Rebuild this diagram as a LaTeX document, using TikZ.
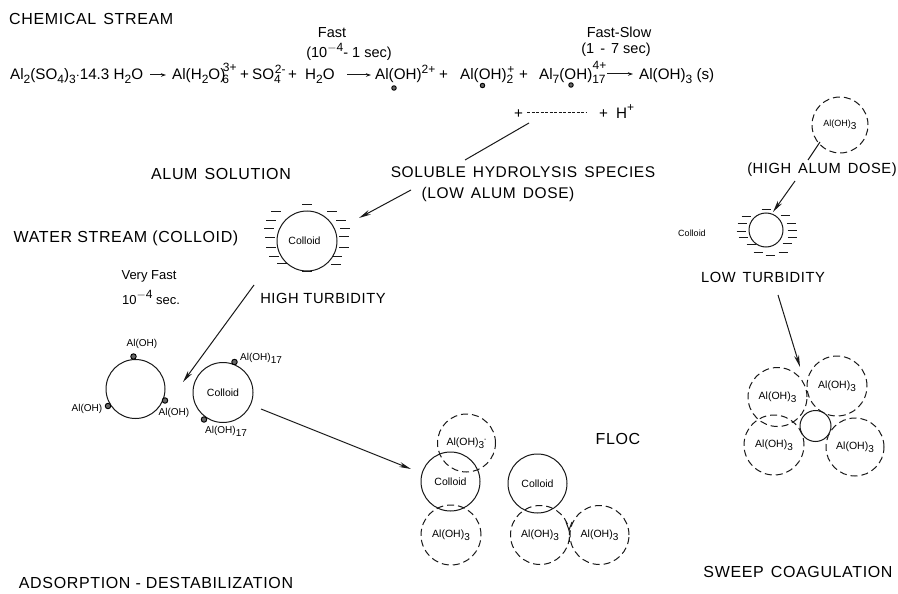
\documentclass[tikz,border=0pt]{standalone}
\usepackage{fontspec}
\setmainfont{Liberation Sans}
\newfontfamily\capsf[LetterSpace=4]{Liberation Sans}
\usetikzlibrary{arrows.meta}
\newcommand{\lowr}[1]{\raisebox{-4pt}{\fontsize{12}{12}\selectfont #1}}
\newcommand{\highr}[1]{\raisebox{6pt}{\fontsize{12}{12}\selectfont #1}}
\newcommand{\slo}[1]{\raisebox{-3pt}{\fontsize{10}{10}\selectfont #1}}
\newcommand{\wsp}{\hspace{7pt}}
\tikzset{
  x=1pt,y=-1pt,
  ink/.style={line width=1pt,black!90},
  caps/.style={inner sep=0pt,font=\capsf\fontsize{16}{16}\selectfont,text=black},
  capsm/.style={inner sep=0pt,font=\capsf\fontsize{15.5}{16}\selectfont,text=black},
  capss/.style={inner sep=0pt,font=\capsf\fontsize{14.7}{16}\selectfont,text=black},
  chem/.style={inner sep=0pt,anchor=base west,font=\fontsize{15.2}{15}\selectfont,text=black},
  rate/.style={inner sep=0pt,font=\fontsize{14.5}{15}\selectfont,text=black},
  ratev/.style={inner sep=0pt,font=\fontsize{13}{14}\selectfont,text=black},
  tiny/.style={inner sep=0pt,font=\fontsize{10}{10}\selectfont,text=black},
  solidc/.style={circle,draw,ink,inner sep=0pt,font=\fontsize{10.5}{10}\selectfont,text=black},
  dashc/.style={solidc,dash pattern=on 7pt off 4pt},
  adsorb/.style={circle,draw=black,line width=0.9pt,fill=black!60,minimum size=5.5pt,inner sep=0pt},
  arr/.style={ink,-{Stealth[length=12pt,width=5pt]}},
  eqarr/.style={ink,-{Stealth[length=5pt,width=3.5pt]}},
  plain/.style={ink},
  tick/.style={ink,line width=0.9pt}
}
\begin{document}
\begin{tikzpicture}
\useasboundingbox[fill=white] (0,0) rectangle (898,594);
% headings
\node[caps,anchor=west] (chemstream) at (9,19) {CHEMICAL\wsp STREAM};
\node[caps] (alum) at (221,174) {ALUM\wsp SOLUTION};
\node[capsm] (soluble) at (523,172) {SOLUBLE\wsp HYDROLYSIS\wsp SPECIES};
\node[capsm] (lowdose) at (498,194) {(LOW\wsp ALUM\wsp DOSE)};
\node[caps] (water) at (126,238) {WATER STREAM (COLLOID)};
\node[capss] (hight) at (323,298) {HIGH TURBIDITY};
\node[capss] (highdose) at (822,170) {(HIGH\wsp ALUM\wsp DOSE)};
\node[capss] (lowt) at (763,277) {LOW\wsp TURBIDITY};
\node[caps] (floc) at (618,439) {FLOC};
\node[caps] (adsdest) at (156,583) {ADSORPTION - DESTABILIZATION};
\node[caps] (sweep) at (798,572) {SWEEP\wsp COAGULATION};
% rates
\node[rate] (fast) at (332,33) {Fast};
\node[rate] (fastt) at (349,52) {(10\highr{$-$4}- 1 sec)};
\node[rate] (fs) at (619,32) {Fast-Slow};
\node[rate] (fst) at (616,50) {(1\hspace{2pt} -\hspace{2pt} 7 sec)};
\node[ratev] (vf) at (149,276) {Very Fast};
\node[ratev] (vft) at (151,297) {10\highr{$-$4} sec.};
% equation
\node[chem] (e1) at (10,80) {Al\lowr{2}(SO\lowr{4})\lowr{3}$\cdot$14.3 H\lowr{2}O};
\node[chem] (e2) at (172,80) {Al(H\lowr{2}O)\hspace{-3pt}\lowr{6}\hspace{-6pt}\raisebox{8pt}{\fontsize{12}{12}\selectfont 3+}};
\node[chem] (p1) at (240,80) {+};
\node[chem] (e3) at (252,80) {SO\lowr{4}\hspace{-6pt}\highr{2-}};
\node[chem] (p2) at (288,80) {+};
\node[chem] (e4) at (305,80) {H\lowr{2}O};
\node[chem] (e5) at (375,80) {Al(OH)\highr{2+}};
\node[chem] (p3) at (439,80) {+};
\node[chem] (e6) at (460,80) {Al(OH)\lowr{2}\hspace{-6pt}\highr{+}};
\node[chem] (p4) at (519,80) {+};
\node[chem] (e7) at (539,80) {Al\lowr{7}(OH)\lowr{17}\hspace{-13pt}\raisebox{10pt}{\fontsize{12}{12}\selectfont 4+}};
\node[chem] (e8) at (639,80) {Al(OH)\lowr{3} (s)};
\coordinate (a1s) at (150,75); \coordinate (a1e) at (166,75);
\coordinate (a2s) at (347,75); \coordinate (a2e) at (371,75);
\coordinate (a3s) at (607,74); \coordinate (a3e) at (633,74);
\draw[eqarr] (a1s) -- (a1e);
\draw[eqarr] (a2s) -- (a2e);
\draw[eqarr] (a3s) -- (a3e);
\node[adsorb,minimum size=4.5pt] (d1) at (394,88) {};
\node[adsorb,minimum size=4.5pt] (d2) at (482.5,85.5) {};
\node[adsorb,minimum size=4.5pt] (d3) at (571,85) {};
% hydrolysis line
\node[chem] (h1) at (514,118) {+};
\coordinate (ds) at (527,113); \coordinate (de) at (587,113);
\draw[ink,dash pattern=on 3pt off 1.5pt] (ds) -- (de);
\node[chem] (h2) at (599,118) {+};
\node[chem] (h3) at (616,118) {H\highr{+}};
\coordinate (l1a) at (529,123); \coordinate (l1b) at (465,160);
\coordinate (l1c) at (411,190); \coordinate (l1d) at (359,218);
\draw[plain] (l1a) -- (l1b);
\draw[arr] (l1c) -- (l1d);
% high-turbidity colloid
\node[solidc,minimum size=60pt] (c0) at (307,241) {\hspace{-5pt}Colloid};
\foreach \i/\px/\py in {a/307/204,b/276/211,c/271/220,d/269/228,e/270/237,f/271/247,g/274/256,h/282/263,i/307/271,j/336/264,k/337/256,l/344/247,m/344/236,n/345/228,o/341/220,p/332/211}{
  \coordinate (t\i) at (\px,\py);
  \draw[tick] ([xshift=-5pt]t\i) -- ([xshift=5pt]t\i);
}
% adsorption stage
\coordinate (vfs) at (254,285); \coordinate (vfe) at (183,382);
\draw[arr] (vfs) -- (vfe);
\node[solidc,minimum size=59pt] (c1) at (135.5,389) {};
\node[solidc,minimum size=60pt] (c2) at (223,392.5) {Colloid};
\node[adsorb] (s1) at (133.5,356.5) {};
\node[adsorb] (s2) at (165,400.5) {};
\node[adsorb] (s3) at (108,406) {};
\node[adsorb] (s4) at (234.5,362) {};
\node[adsorb] (s5) at (204,419.5) {};
\node[tiny] (la) at (142,344) {Al(OH)};
\node[tiny] (lb) at (174,413) {Al(OH)};
\node[tiny] (lc) at (87,409) {Al(OH)};
\node[tiny,anchor=west] (ld) at (240,358) {Al(OH)\slo{17}};
\node[tiny,anchor=west] (le) at (205,431) {Al(OH)\slo{17}};
\coordinate (ads) at (261,409); \coordinate (ade) at (411,469);
\draw[arr] (ads) -- (ade);
% floc
\node[solidc,minimum size=59pt] (f1) at (450.5,481.5) {Colloid};
\node[dashc,minimum size=58pt] (f2) at (466.5,443) {Al(OH)\slo{3}\raisebox{4pt}{\fontsize{7}{7}\selectfont -}};
\node[dashc,minimum size=60pt] (f3) at (451,535) {Al(OH)\slo{3}};
\node[solidc,minimum size=59pt] (f4) at (537.5,483.5) {Colloid};
\node[dashc,minimum size=59pt] (f5) at (540,535) {Al(OH)\slo{3}};
\node[dashc,minimum size=59pt] (f6) at (599.5,535) {Al(OH)\slo{3}};
\coordinate (v1) at (566,522); \coordinate (v2) at (569,530); \coordinate (v3) at (572,522);
\draw[ink] (v1) -- (v2) -- (v3);
\coordinate (v4) at (569,537); \coordinate (v5) at (569,542);
\draw[ink] (v4) -- (v5);
% sweep
\node[dashc,minimum size=56pt] (s0) at (840,125) {\fontsize{9}{9}\selectfont Al(OH)\slo{3}};
\coordinate (h1a) at (820,142); \coordinate (h1b) at (808,160);
\coordinate (h1c) at (795,181); \coordinate (h1d) at (773,212);
\draw[plain] (h1a) -- (h1b);
\draw[arr] (h1c) -- (h1d);
\node[solidc,minimum size=34pt] (w0) at (766,230) {};
\node[tiny,font=\fontsize{9}{9}\selectfont] (wl) at (692,233) {Colloid};
\foreach \i/\px/\py in {a/766/209,b/746/216,c/742/223,d/741/231,e/743/237,f/751/244,g/758/252,h/770/255,i/783/252,j/787/243,k/792/237,l/792/230,m/791/223,n/785/215}{
  \coordinate (u\i) at (\px,\py);
  \draw[tick] ([xshift=-4.5pt]u\i) -- ([xshift=4.5pt]u\i);
}
\coordinate (lts) at (778,295); \coordinate (lte) at (800,367);
\draw[arr] (lts) -- (lte);
\node[dashc,minimum size=59pt] (g1) at (777.5,397) {Al(OH)\slo{3}};
\node[dashc,minimum size=60pt] (g2) at (837,386) {Al(OH)\slo{3}};
\node[dashc,minimum size=60pt] (g3) at (774,445) {Al(OH)\slo{3}};
\node[dashc,minimum size=58pt] (g4) at (855,447) {Al(OH)\slo{3}};
\node[solidc,minimum size=31pt] (g0) at (815.5,426) {};
\end{tikzpicture}
\end{document}
